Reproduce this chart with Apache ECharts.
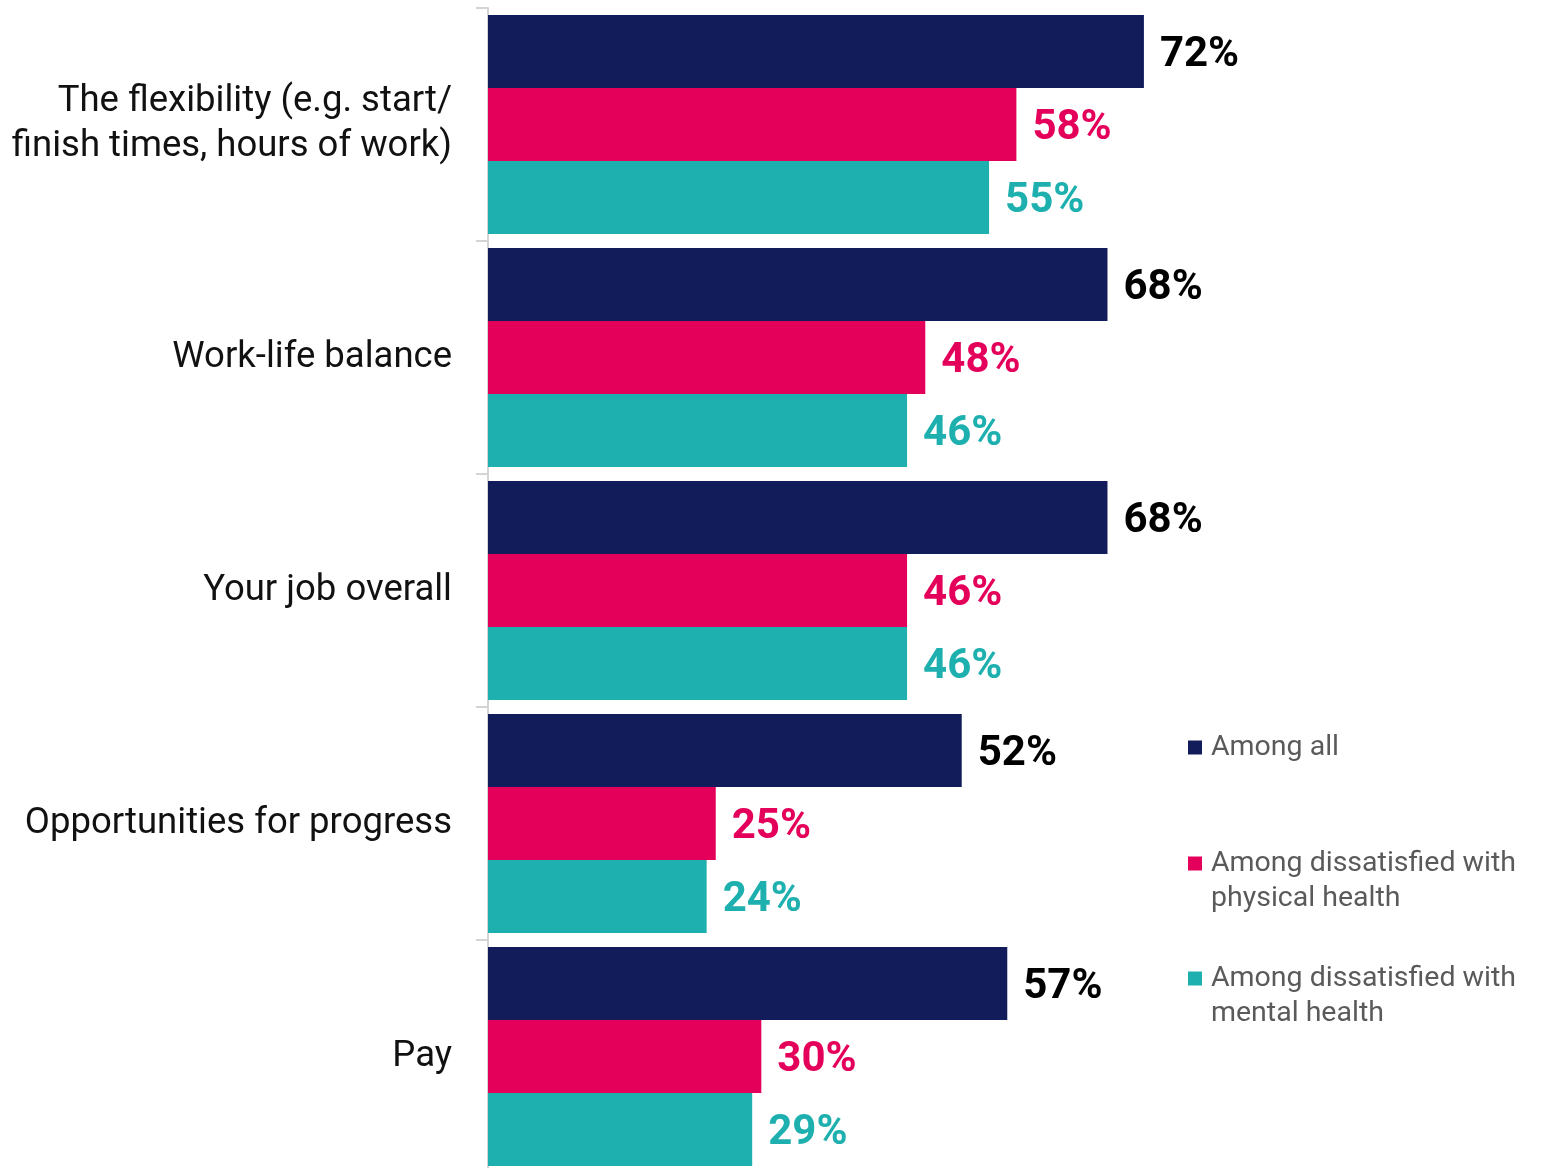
<!DOCTYPE html>
<html><head><meta charset="utf-8">
<script src="https://cdn.jsdelivr.net/npm/echarts@6/dist/echarts.min.js"></script>
<style>html,body{margin:0;padding:0;background:#fff}#c{width:1544px;height:1168px}</style>
</head><body><div id="c"></div>
<script>
const categories = ["The flexibility (e.g. start/\nfinish times, hours of work)", "Work-life balance", "Your job overall", "Opportunities for progress", "Pay"];
const seriesNames = ["Among all", "Among dissatisfied with\nphysical health", "Among dissatisfied with\nmental health"];
const amongAll = [72, 68, 68, 52, 57];
const physical = [58, 48, 46, 25, 30];
const mental = [55, 46, 46, 24, 29];

const colors = ["#121C5A", "#E4005A", "#1EB0AF"];
const labelColors = ["#000000", "#E4005A", "#1EB0AF"];
const FONT = "Roboto";
const chart = echarts.init(document.getElementById('c'), null, {renderer: 'canvas'});
const dataSets = [amongAll, physical, mental];
function mk(i) {
  return {
    name: seriesNames[i], type: 'bar', data: dataSets[i],
    barGap: '0%', barCategoryGap: '6%',
    itemStyle: {color: colors[i]},
    label: {show: true, position: 'right', distance: 16, offset: [0, 4], formatter: '{c}%',
      fontFamily: FONT, fontWeight: 'bold', fontSize: 42, color: labelColors[i]}
  };
}
const legendTops = [730, 811, 926];
const legends = [0,1,2].map(i => ({
  orient: 'vertical', left: 1188, top: legendTops[i], padding: 0,
  itemWidth: 14, itemHeight: 14, icon: 'rect',
  data: [seriesNames[i]],
  formatter: name => (i === 0 ? name : '\n' + name),
  textStyle: {fontFamily: FONT, fontSize: 28.5, color: '#5a5a5a', lineHeight: 35,
    padding: [0,0,0,4]}
}));
chart.setOption({
  animation: false,
  color: colors,
  legend: legends,
  grid: {left: 488, top: 8, width: 911, height: 1165, containLabel: false, outerBoundsMode: 'none'},
  xAxis: {type: 'value', min: 0, max: 100, show: false},
  yAxis: {type: 'category', data: categories, inverse: true,
    axisLine: {show: true, lineStyle: {color: '#d4d4d4', width: 2}},
    axisTick: {show: true, length: 12, lineStyle: {color: '#d4d4d4', width: 2}},
    axisLabel: {margin: 36, fontFamily: FONT, fontSize: 36.5, color: '#111', lineHeight: 45, align: 'right',
      padding: [16, 0, 0, 0]}
  },
  series: [mk(0), mk(1), mk(2)]
});
</script></body></html>
